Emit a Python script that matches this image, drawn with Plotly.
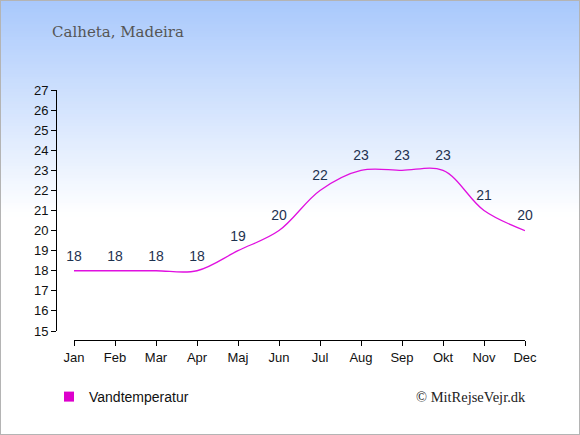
import plotly.graph_objects as go

months = ["Jan", "Feb", "Mar", "Apr", "Maj", "Jun", "Jul", "Aug", "Sep", "Okt", "Nov", "Dec"]
water_temp = [18, 18, 18, 18, 19, 20, 22, 23, 23, 23, 21, 20]
y_ticks = list(range(15, 28))

W, H = 580, 435
magenta = "#e010e0"

fig = go.Figure()

fig.add_trace(go.Scatter(
    x=months, y=water_temp,
    mode="lines+markers+text",
    line=dict(color=magenta, width=1.3, shape="spline", smoothing=1.0),
    marker=dict(size=9, color="rgba(0,0,0,0)"),
    text=[str(v) for v in water_temp],
    textposition="top center",
    textfont=dict(family="Liberation Sans, Arial", size=14, color="#1e3250"),
    showlegend=False,
    cliponaxis=False,
))

# legend entry shown as a square
fig.add_trace(go.Scatter(
    x=[None], y=[None], mode="markers",
    marker=dict(symbol="square", size=10, color="#dd00cc"),
    name="Vandtemperatur",
))

# background gradient, top light blue fading to white
top = (168, 200, 252)
steps = 70
fade_end = 215  # px from top
for i in range(steps):
    y0 = fade_end * i / steps
    y1 = fade_end * (i + 1) / steps + 1.5
    t = (i + 0.5) / steps
    c = tuple(round(top[k] + (255 - top[k]) * t) for k in range(3))
    fig.add_shape(type="rect", xref="paper", yref="paper",
                  x0=0, x1=1, y0=1 - y1 / H, y1=1 - y0 / H,
                  fillcolor="rgb(%d,%d,%d)" % c, line=dict(width=0), layer="below")

# outer border
fig.add_shape(type="rect", xref="paper", yref="paper", x0=0, x1=1, y0=0, y1=1,
              line=dict(color="#b4b4b4", width=2), fillcolor="rgba(0,0,0,0)")

fig.update_layout(
    template="none",
    width=W, height=H,
    margin=dict(l=0, r=0, t=0, b=0, autoexpand=False),
    paper_bgcolor="white",
    plot_bgcolor="rgba(0,0,0,0)",
    font=dict(family="Liberation Sans, Arial", size=13, color="#111111"),
    xaxis=dict(
        domain=[74 / W, 525 / W],
        anchor="free", position=95 / H, automargin=False,
        type="category", range=[0, 11],
        showgrid=False, zeroline=False,
        showline=True, linecolor="#000000", linewidth=1,
        ticks="outside", ticklen=5, tickcolor="#000000",
        tickfont=dict(size=13),
    ),
    yaxis=dict(
        domain=[104 / H, 345 / H],
        anchor="free", position=56 / W, automargin=False,
        range=[15, 27], tickvals=y_ticks,
        showgrid=False, zeroline=False,
        showline=True, linecolor="#000000", linewidth=1,
        ticks="outside", ticklen=5, tickcolor="#000000",
        tickfont=dict(size=13),
    ),
    showlegend=True,
    legend=dict(x=49 / W, y=38 / H, xanchor="left", yanchor="middle",
                bgcolor="rgba(0,0,0,0)", font=dict(size=14, color="#111111"),
                itemwidth=30),
    annotations=[
        dict(text="Calheta, Madeira", xref="paper", yref="paper",
             x=50 / W, y=1 - 32 / H, xanchor="left", yanchor="middle",
             showarrow=False,
             font=dict(family="DejaVu Serif, Liberation Serif, Georgia", size=15, color="#555555")),
        dict(text="© MitRejseVejr.dk", xref="paper", yref="paper",
             x=528 / W, y=38 / H, xanchor="right", yanchor="middle",
             showarrow=False,
             font=dict(family="Liberation Serif, Times New Roman", size=14.5, color="#222222")),
    ],
)

fig.write_html("out.html", config={"displayModeBar": False},
               post_script="document.body.style.margin='0';document.body.style.padding='0';")
